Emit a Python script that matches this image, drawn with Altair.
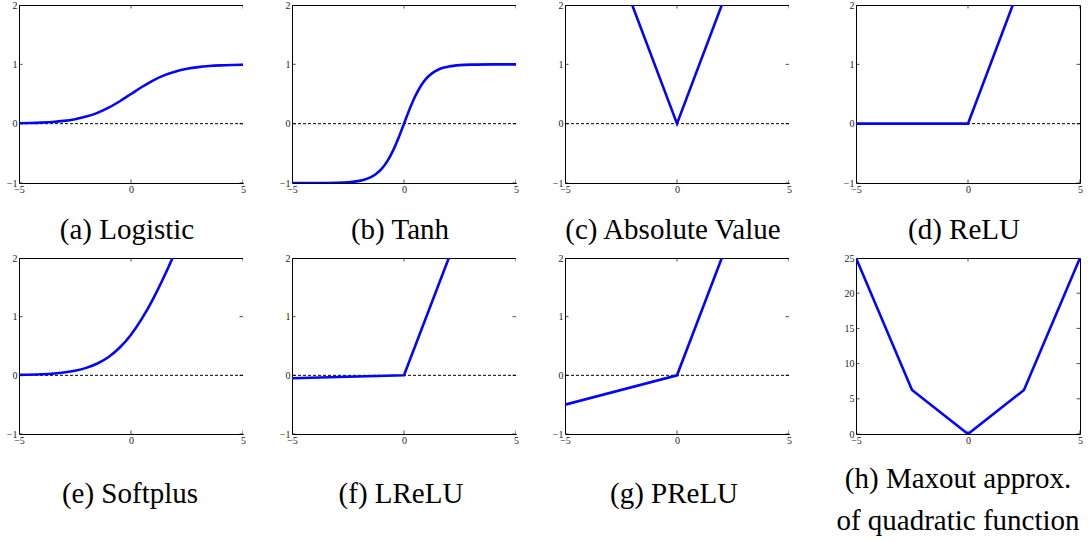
import altair as alt
import pandas as pd

# ---- curve samples (x, y) for each activation ----
logistic_x = [-5, -4.5, -4, -3.5, -3, -2.5, -2, -1.5, -1, -0.5, 0, 0.5, 1, 1.5, 2, 2.5, 3, 3.5, 4, 4.5, 5]
logistic_y = [0.007, 0.011, 0.018, 0.029, 0.047, 0.076, 0.119, 0.182, 0.269, 0.378, 0.5,
              0.622, 0.731, 0.818, 0.881, 0.924, 0.953, 0.971, 0.982, 0.989, 0.993]

tanh_x = [-5, -4, -3, -2.5, -2, -1.75, -1.5, -1.25, -1, -0.75, -0.5, -0.25, 0,
          0.25, 0.5, 0.75, 1, 1.25, 1.5, 1.75, 2, 2.5, 3, 4, 5]
tanh_y = [-1.0, -0.999, -0.995, -0.987, -0.964, -0.941, -0.905, -0.848, -0.762, -0.635, -0.462, -0.245, 0.0,
          0.245, 0.462, 0.635, 0.762, 0.848, 0.905, 0.941, 0.964, 0.987, 0.995, 0.999, 1.0]

abs_x = [-5, 0, 5]
abs_y = [5, 0, 5]

relu_x = [-5, 0, 5]
relu_y = [0, 0, 5]

softplus_x = [-5, -4, -3, -2.5, -2, -1.5, -1, -0.5, 0, 0.5, 1, 1.5, 2, 2.5]
softplus_y = [0.007, 0.018, 0.049, 0.079, 0.127, 0.201, 0.313, 0.474, 0.693, 0.974, 1.313, 1.701, 2.127, 2.579]

lrelu_x = [-5, 0, 5]
lrelu_y = [-0.05, 0, 5]

prelu_x = [-5, 0, 5]
prelu_y = [-0.5, 0, 5]

maxout_x = [-5, -2.5, 0, 2.5, 5]
maxout_y = [25, 6.25, 0, 6.25, 25]

x_ticks = [-5, 0, 5]
act_y_ticks = [-1, 0, 1, 2]
maxout_y_ticks = [0, 5, 10, 15, 20, 25]

captions = {
    "a": "(a) Logistic",
    "b": "(b) Tanh",
    "c": "(c) Absolute Value",
    "d": "(d) ReLU",
    "e": "(e) Softplus",
    "f": "(f) LReLU",
    "g": "(g) PReLU",
    "h": ["(h) Maxout approx.", "of quadratic function"],
}

SERIF = "Liberation Serif, Times New Roman, DejaVu Serif, serif"
BLUE = "#0505f5"
W = 224
H_TOP = 178
H_BOT = 176
FRAME = alt.ViewBackground(stroke="black", strokeWidth=1, fill="white")
BLANK = alt.ViewBackground(strokeWidth=0, strokeOpacity=0, fill="white")


def panel(xs, ys, y_dom, y_ticks, caption, height, smooth=False, zero_line=True,
          cap_offset=22, cap_dx=-4):
    x_enc = alt.X(
        "x:Q",
        scale=alt.Scale(domain=[-5, 5], nice=False, zero=False),
        axis=alt.Axis(values=x_ticks, title=None, grid=False, ticks=False, domain=False,
                      labelFont=SERIF, labelFontSize=10, labelColor="#222",
                      labelPadding=1, labelFlush=False, format="d"),
    )
    y_enc = alt.Y(
        "y:Q",
        scale=alt.Scale(domain=y_dom, nice=False, zero=False),
        axis=alt.Axis(values=y_ticks, title=None, grid=False, ticks=False, domain=False,
                      labelFont=SERIF, labelFontSize=10, labelColor="#222",
                      labelPadding=2, labelFlush=False, format="d"),
    )

    curve = alt.Chart(pd.DataFrame({"x": xs, "y": ys})).mark_line(
        color=BLUE, strokeWidth=2.6, clip=True,
        interpolate="monotone" if smooth else "linear",
    ).encode(x=x_enc, y=y_enc)

    # small inward tick marks on all four sides of the box
    vt = pd.DataFrame({"x": x_ticks * 2, "y": [y_dom[0]] * 3 + [y_dom[1]] * 3})
    ht = pd.DataFrame({"x": [-5] * len(y_ticks) + [5] * len(y_ticks), "y": y_ticks * 2})
    vticks = alt.Chart(vt).mark_tick(orient="vertical", size=7, thickness=1,
                                     color="black", clip=True).encode(x=x_enc, y=y_enc)
    hticks = alt.Chart(ht).mark_tick(orient="horizontal", size=7, thickness=1,
                                     color="black", clip=True).encode(x=x_enc, y=y_enc)

    layers = [vticks, hticks]
    if zero_line:
        zero = alt.Chart(pd.DataFrame({"y": [0]})).mark_rule(
            color="black", strokeWidth=1, strokeDash=[3, 2]
        ).encode(y=y_enc)
        layers.append(zero)
    layers.append(curve)

    return alt.layer(*layers).properties(
        width=W,
        height=height,
        view=FRAME,
        title=alt.Title(caption, orient="bottom", font=SERIF, fontSize=29,
                        fontWeight="normal", color="black", offset=cap_offset,
                        dx=cap_dx, anchor="middle", lineHeight=42),
    )


def gap(width, height):
    # empty column used to set the horizontal distance between panels
    return alt.Chart(pd.DataFrame({"x": [0]})).mark_point(opacity=0).encode(
        x=alt.X("x:Q", axis=None), y=alt.Y("x:Q", axis=None)
    ).properties(width=width, height=height, view=BLANK)


pa = panel(logistic_x, logistic_y, [-1, 2], act_y_ticks, captions["a"], H_TOP, smooth=True)
pb = panel(tanh_x, tanh_y, [-1, 2], act_y_ticks, captions["b"], H_TOP, smooth=True)
pc = panel(abs_x, abs_y, [-1, 2], act_y_ticks, captions["c"], H_TOP)
pd_ = panel(relu_x, relu_y, [-1, 2], act_y_ticks, captions["d"], H_TOP)
pe = panel(softplus_x, softplus_y, [-1, 2], act_y_ticks, captions["e"], H_BOT, smooth=True,
           cap_offset=35, cap_dx=-1)
pf = panel(lrelu_x, lrelu_y, [-1, 2], act_y_ticks, captions["f"], H_BOT, cap_offset=35, cap_dx=-3)
pg = panel(prelu_x, prelu_y, [-1, 2], act_y_ticks, captions["g"], H_BOT, cap_offset=35, cap_dx=-3)
ph = panel(maxout_x, maxout_y, [0, 25], maxout_y_ticks, captions["h"], H_BOT,
           zero_line=False, cap_offset=20, cap_dx=-10)

cells = [
    pa, gap(49, H_TOP), pb, gap(49, H_TOP), pc, gap(67, H_TOP), pd_,
    pe, gap(49, H_BOT), pf, gap(49, H_BOT), pg, gap(67, H_BOT), ph,
]

chart = alt.concat(*cells, columns=7, spacing={"row": 75, "column": 0}, bounds="flush").properties(
    padding={"left": 5, "top": -1, "right": 5, "bottom": 5}
).configure_view(stroke="black", strokeWidth=1).configure(background="white")

chart.save("out.html", embed_options={"renderer": "svg", "actions": False})
